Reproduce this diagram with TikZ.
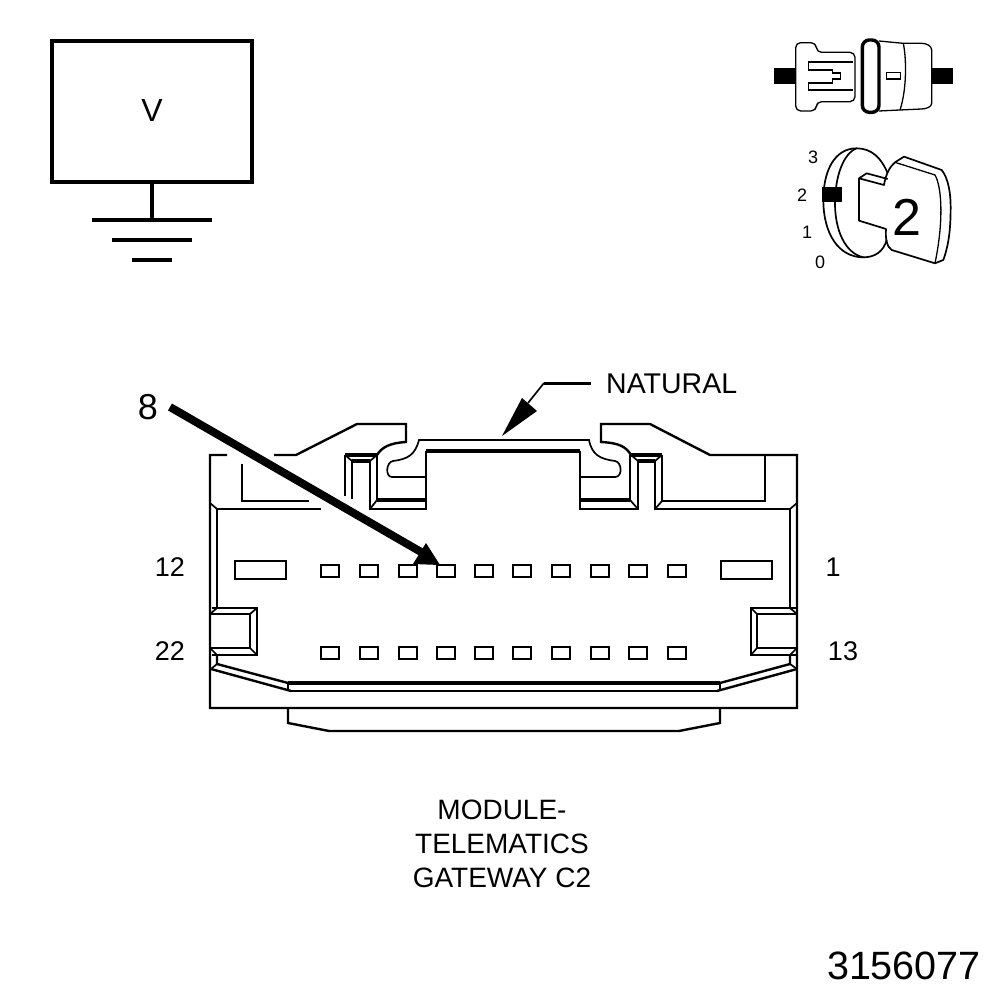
\documentclass[tikz,border=0pt]{standalone}
\usepackage{fontspec}
\setmainfont{Liberation Sans}
\tikzset{
  pic/.style={line width=1.3pt},
  thn/.style={line width=1.7pt},
  med/.style={line width=2.4pt},
  thk/.style={line width=3.2pt},
  hvy/.style={line width=4pt},
  lbl/.style={inner sep=0pt,font=\fontsize{27}{32}\selectfont},
  lblc/.style={inner sep=0pt,align=center,font=\fontsize{28}{34}\selectfont},
  tiny/.style={inner sep=0pt,font=\fontsize{18}{20}\selectfont},
  pin/.style={med,line join=miter}
}
\newcommand{\pinbox}[2]{\draw[pin] (#1,#2) rectangle ++(18,12);}
\begin{document}
\begin{tikzpicture}[x=1pt,y=-1pt,line join=miter]
\useasboundingbox (0,0) rectangle (1008,1000);
\fill[white] (0,0) rectangle (1008,1000);
% V box and ground
\draw[hvy] (52,41) rectangle (252,182);
\node[inner sep=0pt,font=\fontsize{32}{36}\selectfont] (vlabel) at (152,110) {V};
\draw[hvy] (152,182) -- (152,220);
\draw[hvy] (92,220) -- (212,220);
\draw[hvy] (112,240) -- (192,240);
\draw[hvy] (132,260) -- (172,260);
% Top right pictograms
\begin{scope}[shift={(760pt,-30pt)},x=0.3333pt,y=-0.3333pt]
\fill (42,113) rectangle (107,163);
\fill (515,113) rectangle (580,163);
\draw[pic,rounded corners=5pt] (107,160) -- (107,38) -- (168,38) -- (170,67) -- (285,67) -- (285,215) -- (170,215) -- (168,243) -- (107,243) -- cycle;
\draw[pic] (280,96) -- (145,96) -- (145,120) -- (218,120) -- (218,129) -- (242,129) -- (242,147) -- (218,147) -- (218,159) -- (145,159) -- (145,180) -- (280,180);
\draw[line width=3.4pt,rounded corners=7pt] (307,30) rectangle (357,247);
\draw[pic] (357,33) -- (430,40) -- (485,40) .. controls (500,40) and (515,48) .. (515,60) -- (515,220) .. controls (515,230) and (500,237) .. (485,237) -- (420,240) -- (357,243);
\draw[pic] (430,40) .. controls (440,90) and (440,180) .. (420,240);
\draw[pic] (380,128) rectangle (422,147);
\draw[thn] (383,430) .. controls (365,385) and (335,355) .. (290,355) .. controls (225,355) and (190,420) .. (190,510) .. controls (190,610) and (235,682) .. (310,682) .. controls (345,682) and (370,665) .. (380,630);
\draw[thn] (290,355) .. controls (250,370) and (225,440) .. (225,520) .. controls (225,600) and (255,670) .. (310,682);
\fill (187,470) rectangle (245,517);
\draw[thn,line join=round] (297,445) -- (297,572) -- (378,597) .. controls (376,625) and (380,650) .. (395,660) -- (525,700) -- (550,690) .. controls (568,640) and (572,590) .. (572,530) .. controls (572,490) and (565,445) .. (545,420) -- (432,380) -- (405,397) .. controls (390,410) and (378,430) .. (372,465) -- (297,445) -- (320,430) -- (383,447);
\draw[pic] (405,397) -- (525,435) .. controls (545,470) and (552,570) .. (525,700);
\end{scope}
\node[tiny] (k3) at (813,157) {3};
\node[tiny] (k2) at (802,195) {2};
\node[tiny] (k1) at (807,232) {1};
\node[tiny] (k0) at (820,262) {0};
\node[inner sep=0pt,font=\fontsize{52}{56}\selectfont] (big2) at (907,217) {2};
% NATURAL callout
\node[lbl,anchor=west,font=\fontsize{28.5}{32}\selectfont] (natural) at (606,384) {NATURAL};
\coordinate (nA) at (591,383);
\coordinate (nB) at (544,383);
\coordinate (nC) at (528,403);
\draw[line width=3pt] (nA) -- (nB);
\draw[thn] (nB) -- (nC);
\fill (502,436) -- (522,398) -- (537,411) -- cycle;
% Connector body
\draw[med] (227,455) -- (210,455) -- (210,708) -- (797,708) -- (797,455) -- (710,455) -- (650,424) -- (601,424) -- (601,442) .. controls (620,443) and (626,447) .. (631,455);
\draw[med] (274,455) -- (296,455) -- (357,424) -- (406,424) -- (406,442) .. controls (390,443) and (382,447) .. (377,455);
% left top interior
\draw[med] (242,464) -- (242,501) -- (309,501);
\draw[med] (321,509) -- (217,509) -- (217,608);
\draw[thn] (210,503) -- (217,509);
\draw[med] (345,455) -- (345,496);
\draw[med] (352,461) -- (352,499);
\draw[thn] (345,455) -- (352,461);
\draw[thk] (345,455) -- (377,455);
\draw[thk] (352,461) -- (370,461);
\draw[thn] (370,461) -- (377,455);
\draw[med] (370,461) -- (370,509) -- (426,509) -- (426,451);
\draw[med] (377,455) -- (377,500);
\draw[thk] (377,500) -- (426,500);
\draw[thn] (370,509) -- (377,500);
\draw[thk] (426,451) -- (580,451);
\draw[thn] (426,477) -- (392,477) .. controls (385,477) and (386,462) .. (393,461) .. controls (408,459) and (415,455) .. (419,440) -- (589,440) .. controls (592,455) and (600,459) .. (615,461) .. controls (622,462) and (623,477) .. (615,477) -- (580,477);
% right top interior
\draw[med] (580,451) -- (580,509) -- (638,509) -- (638,461);
\draw[thk] (580,500) -- (630,500);
\draw[med] (630,455) -- (630,500);
\draw[thn] (630,500) -- (638,509);
\draw[thk] (631,455) -- (662,455);
\draw[thk] (638,461) -- (655,461);
\draw[thn] (631,455) -- (638,461);
\draw[thn] (655,461) -- (662,455);
\draw[med] (655,461) -- (655,509) -- (790,509) -- (790,608);
\draw[med] (662,455) -- (662,501) -- (765,501) -- (765,455);
\draw[thn] (655,509) -- (662,501);
\draw[thn] (790,509) -- (797,503);
% left latch
\draw[med] (212,608) -- (257,608) -- (257,655) -- (212,655);
\draw[med] (210,614) -- (250,614) -- (250,648) -- (210,648);
\draw[thn] (210,614) -- (217,608);
\draw[thn] (250,614) -- (257,608);
\draw[thn] (250,648) -- (257,655);
\draw[thn] (210,648) -- (217,655);
\draw[med] (217,655) -- (217,664) -- (288,683);
\draw[med] (211,669) -- (291,691);
\draw[thn] (211,669) -- (217,664);
% right latch
\draw[med] (797,608) -- (751,608) -- (751,655) -- (797,655);
\draw[med] (797,614) -- (757,614) -- (757,648) -- (797,648);
\draw[thn] (751,608) -- (757,614);
\draw[thn] (790,608) -- (797,614);
\draw[thn] (751,655) -- (757,648);
\draw[thn] (790,655) -- (797,648);
\draw[med] (790,655) -- (790,664) -- (720,683);
\draw[med] (797,669) -- (717,691);
\draw[thn] (790,664) -- (797,669);
% bottom bars
\draw[thk] (288,683) -- (720,683);
\draw[med] (291,691) -- (717,691);
\draw[thn] (288,683) -- (288,691);
\draw[thn] (720,683) -- (720,691);
\draw[med] (288,708) -- (288,723) -- (329,731) -- (679,731) -- (720,723) -- (720,708);
% pins
\foreach \px in {321,360,399,437,475,513,552,591,629,668}{
  \pinbox{\px}{565}
  \pinbox{\px}{647}
}
\draw[pin] (235,561) rectangle (286,579);
\draw[pin] (721,561) rectangle (772,579);
% big pointer
\coordinate (pS) at (170,407);
\coordinate (pE) at (428,556);
\draw[line width=8pt] (pS) -- (pE);
\fill (440,565) -- (426,543) -- (413,564) -- cycle;
% labels
\node[lbl,font=\fontsize{36}{38}\selectfont] (n8) at (148,407) {8};
\node[lbl] (n12) at (170,567) {12};
\node[lbl] (n22) at (170,651) {22};
\node[lbl] (n1) at (833,567) {1};
\node[lbl] (n13) at (843,651) {13};
\node[lblc] (title) at (502,843.5) {MODULE-\\TELEMATICS\\GATEWAY C2};
\node[inner sep=0pt,anchor=east,font=\fontsize{39.5}{44}\selectfont] (code) at (981,966) {3156077};
\end{tikzpicture}
\end{document}
